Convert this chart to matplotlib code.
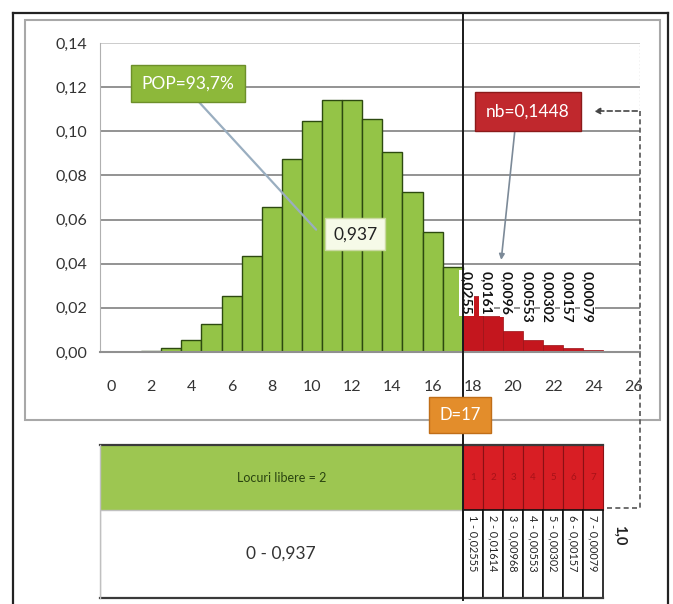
import matplotlib
matplotlib.use("Agg")
import matplotlib.pyplot as plt
from matplotlib.patches import Rectangle
from matplotlib.lines import Line2D

# ---------------- data ----------------
k_green = list(range(0, 18))
p_green = [0.000006, 0.00007, 0.00044, 0.00177, 0.0053, 0.0127, 0.0255, 0.0437,
           0.0655, 0.0874, 0.1048, 0.1144, 0.1144, 0.1056, 0.0905, 0.0724,
           0.0543, 0.0383]
k_red = list(range(18, 25))
p_red = [0.0255, 0.0161, 0.0097, 0.0055, 0.0030, 0.0016, 0.0008]
red_labels = ["0,0255", "0,0161", "0,0096", "0,00553", "0,00302", "0,00157", "0,00079"]
x_ticks = list(range(0, 27, 2))
y_ticks = [0.00, 0.02, 0.04, 0.06, 0.08, 0.10, 0.12, 0.14]
y_tick_labels = ["0,00", "0,02", "0,04", "0,06", "0,08", "0,10", "0,12", "0,14"]
threshold = 17.5
pop_text = "POP=93,7%"
cum_text = "0,937"
nb_text = "nb=0,1448"
d_text = "D=17"
green_cell_text = "Locuri libere = 2"
white_cell_text = "0 - 0,937"
red_cell_top = ["1", "2", "3", "4", "5", "6", "7"]
red_cell_bottom = ["1 - 0,02555", "2 - 0,01614", "3 - 0,00968", "4 - 0,00553",
                   "5 - 0,00302", "6 - 0,00157", "7 - 0,00079"]
side_text = "1,0"

plt.rcParams['font.family'] = ['Lato', 'DejaVu Sans']

W, H = 673, 604
fig = plt.figure(figsize=(W / 100, H / 100), dpi=100)
fig.patch.set_facecolor('white')

def fx(x):
    return x / W

def fy(y):
    return 1 - y / H

# ---------------- frames ----------------
fig.add_artist(Rectangle((fx(25), fy(420)), fx(660) - fx(25), fy(20) - fy(420),
                         transform=fig.transFigure, fill=False, ec='#a8a8a8', lw=1.5))
for (xa, ya, xb, yb) in [(13, 13, 13, 604), (13, 13, 668, 13), (668, 13, 668, 604)]:
    fig.add_artist(Line2D([fx(xa), fx(xb)], [fy(ya), fy(yb)], transform=fig.transFigure,
                          color='#222222', lw=1.6))

# ---------------- main axes ----------------
L, R, T, B = 100, 640, 43, 352
ax = fig.add_axes([fx(L), fy(B), fx(R) - fx(L), fy(T) - fy(B)])
ppu = 20.1
x0 = -(111 - L) / ppu
x1 = x0 + (R - L) / ppu
ax.set_xlim(x0, x1)
ax.set_ylim(0, 0.14)
for s in ['top', 'right']:
    ax.spines[s].set_visible(False)
ax.spines['left'].set_color('#b0b0b0')
ax.spines['bottom'].set_color('#909090')
ax.spines['bottom'].set_linewidth(1.5)
ax.set_yticks(y_ticks)
ax.set_yticklabels(y_tick_labels)
ax.set_xticks(x_ticks)
ax.tick_params(axis='y', length=0, pad=9, labelsize=11.5, labelcolor='#333333')
ax.tick_params(axis='x', length=0, pad=20, labelsize=11.5, labelcolor='#333333')
for yv in y_ticks[1:]:
    ax.axhline(yv, color='#8a8a8a' if yv < 0.13 else '#c8c8c8', lw=1.3, zorder=0)
ax.axvline(x1 - 0.02, color='#c0c0c0', lw=1, ls=':', zorder=0)

ax.bar(k_green, p_green, width=1.0, color='#94C447', edgecolor='#2d4a10', lw=1.0, zorder=2)
ax.bar(k_red, p_red, width=1.0, color='#C4161E', edgecolor='#9a1016', lw=0.5, zorder=2)
for k, lab in zip(k_red, red_labels):
    ax.text(k - 0.3, 0.0365, lab, rotation=-90, ha='center', va='top', fontsize=10,
            fontweight='bold', color='#111111', zorder=4,
            bbox=dict(boxstyle='square,pad=0.1', fc='white', ec='none'))

# annotation boxes
ax.annotate('', xy=(10.3, 0.0545), xytext=(4.0, 0.117),
            arrowprops=dict(arrowstyle='-', color='#9aaec0', lw=1.6), zorder=3)
ax.text(3.83, 0.1217, pop_text, ha='center', va='center', fontsize=12.5, color='white', zorder=5,
        bbox=dict(boxstyle='square,pad=0.6', fc='#8DB83A', ec='#6d8f2a', lw=1))
ax.text(12.15, 0.0534, cum_text, ha='center', va='center', fontsize=12.5, color='#222222', zorder=5,
        bbox=dict(boxstyle='square,pad=0.45', fc='#F6FAE8', ec='#c9d9a0', lw=1))
ax.annotate('', xy=(19.4, 0.0405), xytext=(20.1, 0.101),
            arrowprops=dict(arrowstyle='-|>', color='#7c8a98', lw=1.2, mutation_scale=8), zorder=3)
ax.text(20.75, 0.109, nb_text, ha='center', va='center', fontsize=12.5, color='white', zorder=5,
        bbox=dict(boxstyle='square,pad=0.65', fc='#C0282D', ec='#8B1A1A', lw=1))

# ---------------- table axes ----------------
tb_top, tb_bot, tb_mid = 445, 598, 510
tab = fig.add_axes([fx(L), fy(tb_bot), fx(R) - fx(L), fy(tb_top) - fy(tb_bot)])
tab.set_xlim(x0, x1)
tab.set_ylim(0, 1)
tab.axis('off')
mid = (tb_bot - tb_mid) / (tb_bot - tb_top)
tab.add_patch(Rectangle((x0, mid), threshold - x0, 1 - mid, fc='#9DC651', ec='none'))
tab.add_patch(Rectangle((x0, 0), threshold - x0, mid, fc='white', ec='#c0c0c0', lw=1))
tab.text((x0 + threshold) / 2, mid + (1 - mid) / 2, green_cell_text, ha='center', va='center',
         fontsize=9, color='#2a4410')
tab.text((x0 + threshold) / 2, mid / 2, white_cell_text, ha='center', va='center',
         fontsize=12.5, color='#333333')
for k, t1, t2 in zip(k_red, red_cell_top, red_cell_bottom):
    tab.add_patch(Rectangle((k - 0.5, mid), 1, 1 - mid, fc='#D81E24', ec='#8a1014', lw=0.8))
    tab.add_patch(Rectangle((k - 0.5, 0), 1, mid, fc='white', ec='#111111', lw=1.2))
    tab.text(k, mid + (1 - mid) / 2, t1, ha='center', va='center', fontsize=7, color='#a81218')
    tab.text(k, mid - 0.03, t2, rotation=-90, ha='center', va='top', fontsize=7.8,
             color='#222222')
tab.plot([x0, k_red[-1] + 0.5], [1, 1], color='#3a3a3a', lw=1.6, clip_on=False)
tab.plot([x0, k_red[-1] + 0.5], [0, 0], color='#3a3a3a', lw=1.6, clip_on=False)
tab.plot([x0, x0], [0, 1], color='#c0c0c0', lw=1.0, clip_on=False)
tab.text(k_red[-1] + 1.3, mid - 0.1, side_text, rotation=-90, ha='center', va='top',
         fontsize=10.5, fontweight='bold', color='#222222')

# threshold vertical line across whole figure
xt = fx(L + (threshold - x0) * ppu)
fig.add_artist(Line2D([xt, xt], [fy(13), fy(600)], transform=fig.transFigure,
                      color='#1a1a1a', lw=1.4, zorder=10))

# dashed bracket from nb box down to table
fig.add_artist(Line2D([fx(640), fx(640), fx(606)], [fy(111), fy(508), fy(508)],
                      transform=fig.transFigure, color='#555555', lw=1.2, ls=(0, (3, 2))))
ax.annotate('', xy=(fx(591), fy(111)), xycoords='figure fraction',
            xytext=(fx(640), fy(111)), textcoords='figure fraction',
            arrowprops=dict(arrowstyle='-|>', color='#444444', lw=1.2, ls=(0, (3, 2)),
                            mutation_scale=9), annotation_clip=False)

# D=17 box
fig.text(fx(460), fy(415), d_text, ha='center', va='center', fontsize=12, color='white', zorder=11,
         bbox=dict(boxstyle='square,pad=0.6', fc='#E38D2B', ec='#c06e18', lw=1))

fig.savefig('out.png', dpi=100, facecolor='white')
